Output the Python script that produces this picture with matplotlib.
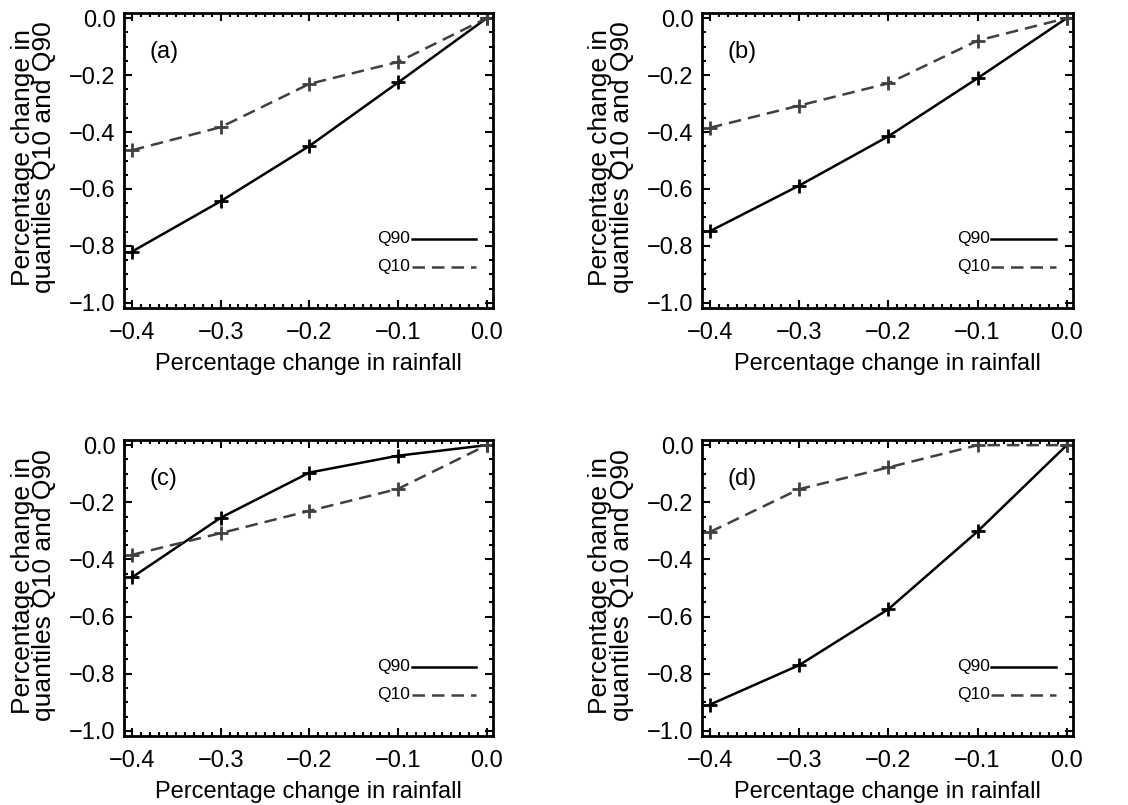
import matplotlib
matplotlib.use("Agg")
import matplotlib.pyplot as plt
from matplotlib.ticker import MultipleLocator, FuncFormatter

plt.rcParams['font.family'] = ['Liberation Sans', 'DejaVu Sans']

rain = [-0.4, -0.3, -0.2, -0.1, 0.0]
panels = ["(a)", "(b)", "(c)", "(d)"]
q90_a = [-0.82, -0.643, -0.449, -0.226, 0.0]
q10_a = [-0.464, -0.383, -0.231, -0.154, 0.0]
q90_b = [-0.748, -0.588, -0.415, -0.211, 0.0]
q10_b = [-0.385, -0.307, -0.229, -0.079, 0.0]
q90_c = [-0.463, -0.254, -0.096, -0.037, 0.0]
q10_c = [-0.384, -0.308, -0.230, -0.153, 0.0]
q90_d = [-0.908, -0.770, -0.574, -0.302, 0.0]
q10_d = [-0.304, -0.154, -0.078, 0.0, 0.0]
q90_all = [q90_a, q90_b, q90_c, q90_d]
q10_all = [q10_a, q10_b, q10_c, q10_d]


def fmt(v, pos):
    s = '%.1f' % v
    if s == '-0.0':
        s = '0.0'
    return s.replace('-', '\u2212')


fig = plt.figure(figsize=(11.28, 8.05), dpi=100)
W, H = 1128, 805
boxes = [(124, 13, 493, 308), (702, 13, 1073, 308),
         (124, 440, 493, 736), (702, 440, 1073, 736)]

dash_col = '#404040'
dash = (0, (5, 2.8))
for i, (l, t, r, b) in enumerate(boxes):
    ax = fig.add_axes([l / W, 1 - b / H, (r - l) / W, (b - t) / H])
    ax.plot(rain, q90_all[i], color='black', lw=1.8, marker='+', ms=9.5, mew=2.0)
    ax.plot(rain, q10_all[i], color=dash_col, lw=1.8, ls=dash, marker='+', ms=9.5, mew=2.0)
    ax.set_xlim(-0.409, 0.007)
    ax.set_ylim(-1.018, 0.018)
    ax.xaxis.set_major_locator(MultipleLocator(0.1))
    ax.xaxis.set_minor_locator(MultipleLocator(0.01))
    ax.yaxis.set_major_locator(MultipleLocator(0.2))
    ax.yaxis.set_minor_locator(MultipleLocator(0.05))
    ax.xaxis.set_major_formatter(FuncFormatter(fmt))
    ax.yaxis.set_major_formatter(FuncFormatter(fmt))
    ax.tick_params(which='both', direction='in', top=True, right=True, width=1.5, labelsize=17)
    ax.tick_params(which='major', length=6)
    ax.tick_params(which='minor', length=3)
    ax.tick_params(axis='x', which='major', pad=10)
    ax.tick_params(axis='y', which='major', pad=6)
    for s in ax.spines.values():
        s.set_linewidth(2.0)
    ax.set_xlabel('Percentage change in rainfall', fontsize=17, va='center')
    ax.xaxis.set_label_coords(0.5, -0.19)
    ax.set_ylabel('Percentage change in\nquantiles Q10 and Q90', fontsize=19, linespacing=0.87, va='center')
    ax.yaxis.set_label_coords(-0.245, 0.51)
    ax.text(0.068, 0.868, panels[i], transform=ax.transAxes, fontsize=17, va='center', ha='left')
    # legend
    ax.plot([0.78, 0.955], [0.234, 0.234], transform=ax.transAxes, color='black', lw=1.8)
    ax.plot([0.78, 0.955], [0.139, 0.139], transform=ax.transAxes, color=dash_col, lw=1.8, ls=dash)
    ax.text(0.775, 0.234, 'Q90', transform=ax.transAxes, fontsize=12.5, ha='right', va='center')
    ax.text(0.775, 0.139, 'Q10', transform=ax.transAxes, fontsize=12.5, ha='right', va='center')

fig.savefig('out.png', dpi=100)
